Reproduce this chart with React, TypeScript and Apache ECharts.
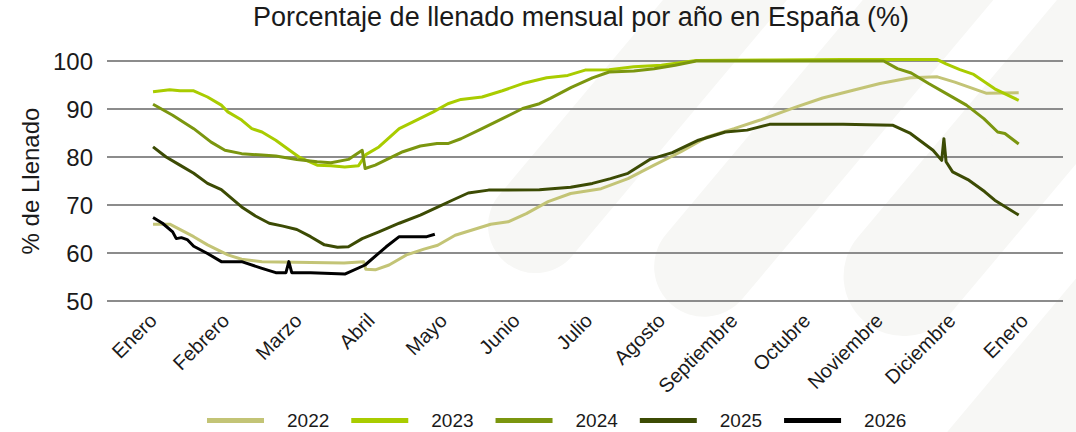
import React, { useEffect, useRef } from 'react';
import * as echarts from 'echarts';

const monthLabels = ['Enero', 'Febrero', 'Marzo', 'Abril', 'Mayo', 'Junio', 'Julio', 'Agosto', 'Septiembre', 'Octubre', 'Noviembre', 'Diciembre', 'Enero'];
const monthTicks = [0, 1, 2, 3, 4, 5, 6, 7, 8, 9, 10, 11, 12];
const yearNames = ['2022', '2023', '2024', '2025', '2026'];
const yearColors = ['#c3c476', '#a9cc00', '#7b960f', '#3c4b04', '#000000'];

// [month position (0 = 1 Jan), % filled]
const data2022 = [
  [0, 66.0], [0.23, 66.0], [0.56, 63.4], [0.75, 61.7], [1.03, 59.6], [1.22, 58.7], [1.5, 58.2], [2.17, 58.0],
  [2.63, 57.9], [2.9, 58.2], [2.93, 56.6], [3.06, 56.5], [3.25, 57.5], [3.49, 59.6], [3.73, 60.8], [3.92, 61.6],
  [4.16, 63.7], [4.65, 66.0], [4.89, 66.5], [5.14, 68.2], [5.44, 70.7], [5.75, 72.4], [6.17, 73.4], [6.54, 75.5],
  [6.9, 78.3], [7.27, 81.1], [7.63, 84.2], [8.0, 85.9], [8.36, 87.7], [8.85, 90.4], [9.22, 92.3], [9.64, 93.9],
  [10.01, 95.3], [10.43, 96.5], [10.8, 96.7], [11.04, 95.6], [11.47, 93.3], [11.92, 93.4],
];
const data2023 = [
  [0, 93.6], [0.23, 94.0], [0.37, 93.8], [0.56, 93.8], [0.75, 92.5], [0.94, 90.8], [1.03, 89.4], [1.22, 87.7],
  [1.36, 85.9], [1.5, 85.2], [1.69, 83.5], [1.88, 81.4], [2.02, 79.9], [2.26, 78.3], [2.45, 78.2], [2.64, 77.9],
  [2.83, 78.2], [2.93, 80.5], [3.11, 82.1], [3.39, 85.9], [3.58, 87.3], [3.86, 89.4], [4.06, 91.1], [4.24, 92.0],
  [4.53, 92.5], [4.81, 93.8], [5.09, 95.3], [5.42, 96.5], [5.71, 97.0], [5.95, 98.1], [6.28, 98.2], [6.62, 98.8],
  [7.0, 99.1], [7.48, 100.1], [8.5, 100.2], [9.5, 100.3], [10.8, 100.3], [10.92, 99.4], [11.11, 98.2],
  [11.3, 97.2], [11.59, 94.2], [11.92, 91.8],
];
const data2024 = [
  [0, 91.0], [0.27, 88.7], [0.56, 85.9], [0.8, 83.1], [0.99, 81.4], [1.22, 80.7], [1.5, 80.4], [1.69, 80.2],
  [1.98, 79.5], [2.26, 79.0], [2.45, 78.8], [2.69, 79.5], [2.88, 81.4], [2.92, 77.6], [3.06, 78.3], [3.25, 79.7],
  [3.44, 81.1], [3.68, 82.3], [3.91, 82.8], [4.06, 82.8], [4.24, 83.8], [4.53, 85.9], [4.81, 88.0], [5.09, 90.1],
  [5.32, 91.1], [5.47, 92.2], [5.76, 94.5], [6.05, 96.5], [6.28, 97.7], [6.62, 97.9], [6.9, 98.4], [7.19, 99.1],
  [7.48, 100.0], [8.5, 100.0], [9.5, 100.0], [10.06, 100.0], [10.25, 98.4], [10.44, 97.5], [10.68, 95.3],
  [10.96, 92.9], [11.2, 90.8], [11.44, 88.0], [11.63, 85.2], [11.73, 84.9], [11.92, 82.7],
];
const data2025 = [
  [0, 82.1], [0.18, 80.0], [0.37, 78.3], [0.56, 76.6], [0.75, 74.5], [0.94, 73.2], [1.22, 69.6], [1.41, 67.7],
  [1.6, 66.2], [1.79, 65.6], [1.98, 64.9], [2.17, 63.4], [2.36, 61.7], [2.54, 61.2], [2.69, 61.3], [2.88, 63.0],
  [3.11, 64.4], [3.39, 66.2], [3.68, 67.9], [3.91, 69.5], [4.15, 71.2], [4.34, 72.5], [4.62, 73.1], [5.32, 73.2],
  [5.75, 73.7], [6.05, 74.5], [6.3, 75.5], [6.54, 76.6], [6.84, 79.5], [7.15, 80.9], [7.51, 83.5], [7.88, 85.2],
  [8.18, 85.6], [8.49, 86.8], [9.5, 86.8], [10.19, 86.6], [10.43, 84.9], [10.74, 81.4], [10.86, 79.3],
  [10.89, 83.8], [10.92, 79.0], [11.01, 76.9], [11.22, 75.3], [11.45, 72.8], [11.59, 71.0], [11.92, 67.9],
];
const data2026 = [
  [0, 67.4], [0.13, 66.2], [0.27, 64.4], [0.32, 63.0], [0.39, 63.2], [0.47, 62.8], [0.56, 61.4], [0.75, 59.9],
  [0.94, 58.2], [1.22, 58.2], [1.5, 56.8], [1.69, 55.9], [1.83, 55.9], [1.87, 58.2], [1.91, 55.9], [2.17, 55.9],
  [2.36, 55.8], [2.64, 55.6], [2.92, 57.5], [3.21, 61.3], [3.39, 63.4], [3.77, 63.4], [3.88, 63.9],
];
const yearData = [data2022, data2023, data2024, data2025, data2026];

const FONT = "'Liberation Sans', Arial, sans-serif";

// faint watermark stripes: tip x, tip y, width, length
const stripes = [
  [505, 262, 95, 600],
  [672, 305, 100, 600],
  [865, 322, 120, 600],
  [995, 148, 90, 400],
  [905, 560, 100, 700],
];

export default function App() {
  const ref = useRef<HTMLDivElement>(null);
  useEffect(() => {
    const chart = echarts.init(ref.current!, null, { renderer: 'svg' });
    const rot = (-40 * Math.PI) / 180;
    chart.setOption({
      animation: false,
      backgroundColor: '#ffffff',
      textStyle: { fontFamily: FONT },
      title: {
        text: 'Porcentaje de llenado mensual por año en España (%)',
        left: 581,
        top: 3,
        padding: 0,
        textAlign: 'center',
        textStyle: { fontSize: 27, fontWeight: 'normal', color: '#1a1a1a', fontFamily: FONT },
      },
      graphic: stripes.map(([x, y, w, l]) => ({
        type: 'rect',
        x,
        y,
        rotation: rot,
        z: -10,
        silent: true,
        shape: { x: -w / 2, y: -l, width: w, height: l, r: w / 2 },
        style: { fill: '#f7f7f5' },
      })),
      legend: {
        data: yearNames,
        left: 202,
        top: 406,
        icon: 'rect',
        itemWidth: 57,
        itemHeight: 5,
        itemGap: 22,
        textStyle: { fontSize: 19, color: '#1a1a1a', fontFamily: FONT, padding: [0, 0, 0, 18] },
      },
      grid: { left: 107, right: 13, top: 61, bottom: 131, containLabel: false },
      xAxis: {
        type: 'value',
        min: -0.634,
        max: 12.53,
        axisLine: { show: false },
        axisTick: { show: false },
        splitLine: { show: false },
        axisLabel: {
          customValues: monthTicks,
          formatter: (v: number) => monthLabels[Math.round(v)] ?? '',
          rotate: 45,
          fontSize: 20,
          color: '#1a1a1a',
          margin: 16,
          fontFamily: FONT,
        },
      },
      yAxis: {
        type: 'value',
        min: 50,
        max: 100,
        interval: 10,
        name: '% de Llenado',
        nameLocation: 'middle',
        nameGap: 65,
        nameTextStyle: { fontSize: 24, color: '#1a1a1a', fontFamily: FONT },
        axisLine: { show: false },
        axisTick: { show: false },
        axisLabel: { fontSize: 24, color: '#1a1a1a', margin: 14, fontFamily: FONT },
        splitLine: { lineStyle: { color: '#8c8c8c', width: 2 } },
      },
      series: yearNames.map((name, i) => ({
        name,
        type: 'line',
        data: yearData[i],
        showSymbol: false,
        symbol: 'none',
        clip: false,
        color: yearColors[i],
        lineStyle: { color: yearColors[i], width: 3, join: 'round' },
        z: 2 + i,
      })),
    });
    return () => chart.dispose();
  }, []);
  return <div ref={ref} style={{ position: 'absolute', left: 0, top: 0, width: 1076, height: 432 }} />;
}
